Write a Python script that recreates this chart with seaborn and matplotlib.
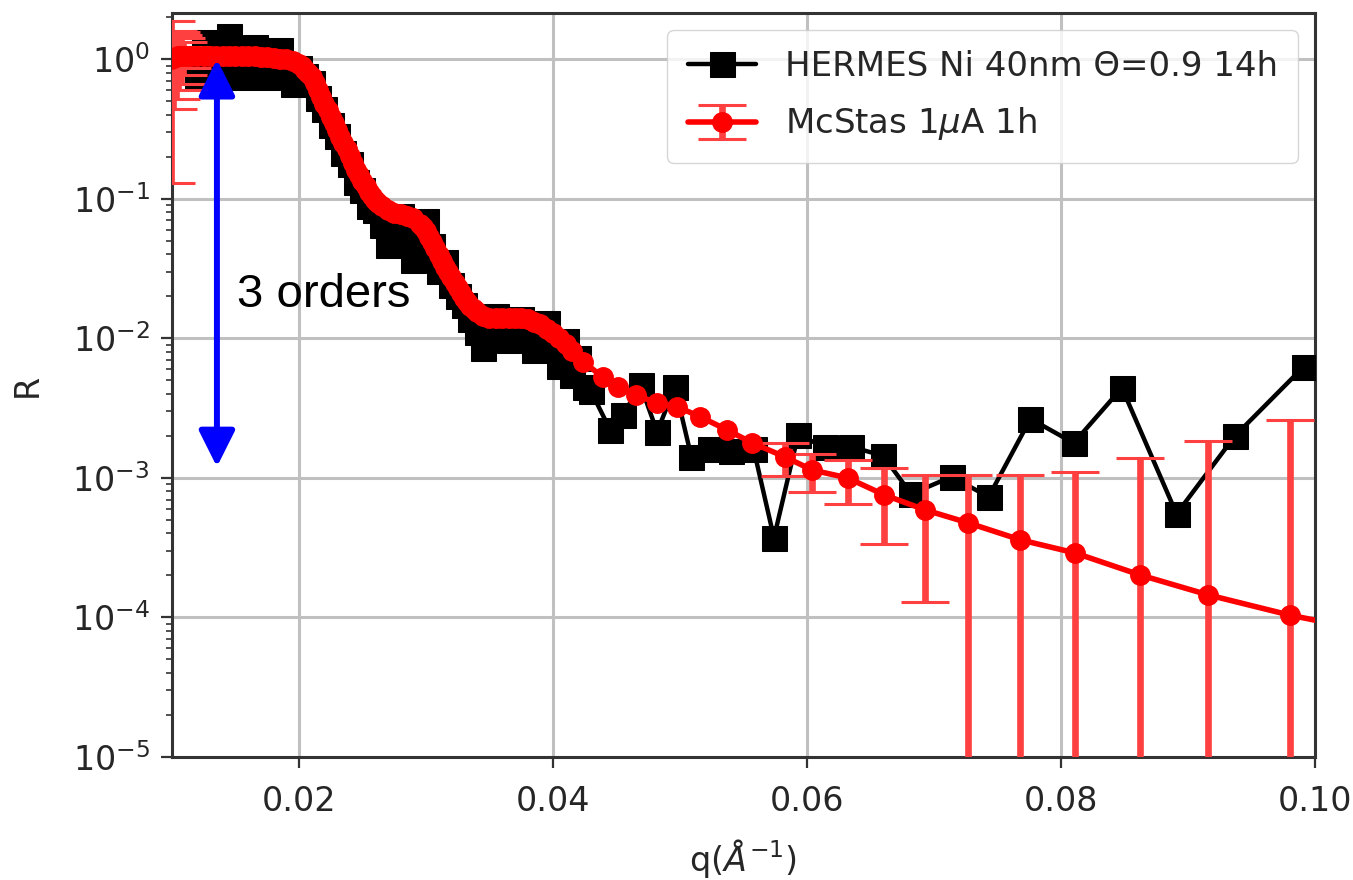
import matplotlib
matplotlib.use("Agg")
import matplotlib.pyplot as plt
import seaborn as sns
import pandas as pd

# ---------------- data ----------------
hermes_q = [0.0120, 0.0125, 0.0130, 0.0135, 0.0140, 0.0145, 0.0150, 0.0155, 0.0160, 0.0165,
            0.0170, 0.0175, 0.0180, 0.0185, 0.0190, 0.0195, 0.0200, 0.0205, 0.0210, 0.0215,
            0.0220, 0.0225, 0.0230, 0.0235, 0.0240, 0.0245, 0.0250, 0.0255, 0.0260, 0.0265,
            0.0270, 0.0275, 0.0280, 0.0285, 0.0290, 0.0295, 0.0300, 0.0305, 0.0310, 0.0315,
            0.0320, 0.0325, 0.0330, 0.0335, 0.0340, 0.0345, 0.0350, 0.0355, 0.0360, 0.0365,
            0.0370, 0.0375, 0.0380, 0.0385, 0.0390, 0.0395, 0.0400, 0.0405, 0.0410, 0.0415,
            0.0420, 0.0425, 0.0430,
            0.0445, 0.0455, 0.0469, 0.0482, 0.0496, 0.0509, 0.0524, 0.0540, 0.0558, 0.0574,
            0.0593, 0.0614, 0.0635, 0.0660, 0.0682, 0.0714, 0.0743, 0.0776, 0.0810, 0.0848,
            0.0891, 0.0937, 0.0991]
hermes_R = [0.750, 1.33, 1.00, 0.750, 1.05, 1.47, 1.02, 0.750, 0.977, 1.23,
            0.955, 0.741, 0.933, 1.16, 0.912, 0.667, 0.871, 0.759, 0.676, 0.525,
            0.437, 0.339, 0.282, 0.214, 0.178, 0.132, 0.115, 0.0891, 0.0832, 0.0646,
            0.0468, 0.0575, 0.0759, 0.0525, 0.0363, 0.0501, 0.0692, 0.0457, 0.0302, 0.0355,
            0.0240, 0.0200, 0.0174, 0.0138, 0.0112, 0.00851, 0.0107, 0.0145, 0.0110, 0.00977,
            0.0110, 0.0138, 0.0105, 0.00832, 0.0102, 0.0129, 0.00933, 0.00631, 0.00955, 0.00550,
            0.00724, 0.00447, 0.00417,
            0.00221, 0.00283, 0.00460, 0.00214, 0.00449, 0.00141, 0.00161, 0.00156, 0.00161, 0.000372,
            0.00203, 0.00167, 0.00167, 0.00144, 0.000767, 0.00102, 0.000731, 0.00265, 0.00178, 0.00442,
            0.000552, 0.00200, 0.00625]

mcstas_q = [0.0099, 0.0101, 0.0103, 0.0105, 0.0107, 0.0109, 0.0112, 0.0115,
            0.0120, 0.0125, 0.0130, 0.0135, 0.0140, 0.0145, 0.0150, 0.0155, 0.0160, 0.0165,
            0.0170, 0.0175, 0.0180, 0.0185, 0.0190, 0.0195,
            0.02000, 0.02025, 0.02050, 0.02075, 0.02100, 0.02125, 0.02150, 0.02175, 0.02200,
            0.02225, 0.02250, 0.02275, 0.02300, 0.02325, 0.02350, 0.02375, 0.02400, 0.02425,
            0.02450, 0.02475, 0.02500, 0.02525, 0.02550, 0.02575, 0.02600, 0.02625, 0.02650,
            0.0270, 0.0275, 0.0280, 0.0285, 0.0290,
            0.02950, 0.02975, 0.03000, 0.03025, 0.03050, 0.03075, 0.03100, 0.03125, 0.03150,
            0.03175, 0.03200, 0.03225, 0.03250, 0.03275, 0.03300, 0.03325, 0.03350, 0.03375,
            0.03400,
            0.0345, 0.0350, 0.0355, 0.0360, 0.0365, 0.0370, 0.0375, 0.0380,
            0.0385, 0.0390, 0.0395, 0.0400, 0.0405, 0.0410, 0.0415,
            0.0424, 0.0439, 0.0451, 0.0465, 0.0482, 0.0498, 0.0516, 0.0537, 0.0557,
            0.0583, 0.0604, 0.0632, 0.0661, 0.0693, 0.0727, 0.0768, 0.0811, 0.0862, 0.0916,
            0.0980, 0.1045]
mcstas_R = [1.00, 1.02, 1.04, 1.05, 1.05, 1.05, 1.05, 1.05,
            1.05, 1.05, 1.05, 1.05, 1.05, 1.05, 1.05, 1.05, 1.05, 1.05,
            1.047, 1.035, 1.023, 1.012, 1.00, 0.977,
            0.933, 0.891, 0.841, 0.794, 0.741, 0.676, 0.603, 0.537, 0.479,
            0.432, 0.389, 0.347, 0.309, 0.279, 0.251, 0.226, 0.204, 0.182,
            0.162, 0.148, 0.135, 0.123, 0.112, 0.105, 0.0977, 0.0933, 0.0891,
            0.0832, 0.0794, 0.0776, 0.0759, 0.0729,
            0.0661, 0.0631, 0.0589, 0.0537, 0.0490, 0.0442, 0.0398, 0.0359, 0.0324,
            0.0299, 0.0275, 0.0251, 0.0229, 0.0211, 0.0195, 0.0182, 0.0170, 0.0162,
            0.0155,
            0.0145, 0.0141, 0.0140, 0.0140, 0.0141, 0.0141, 0.0140, 0.0138,
            0.0132, 0.0126, 0.0117, 0.0110, 0.0100, 0.00912, 0.00813,
            0.00679, 0.00530, 0.00449, 0.00393, 0.00345, 0.00323, 0.00274, 0.00221, 0.00178,
            0.00141, 0.00114, 0.00100, 0.000755, 0.000590, 0.000476, 0.000360, 0.000290, 0.000202, 0.000145,
            0.000104, 0.000079]

# visible error bars (symmetric), by q; all other points show none
err_q = [0.0099, 0.0101, 0.0103, 0.0105, 0.0107, 0.0109, 0.0112, 0.0115,
         0.0583, 0.0604, 0.0632, 0.0661, 0.0693, 0.0727, 0.0768, 0.0811, 0.0862, 0.0916,
         0.0980, 0.1045]
err_val = [0.87, 0.58, 0.52, 0.45, 0.38, 0.28, 0.18, 0.10,
           0.00037, 0.00035, 0.00035, 0.00042, 0.00046, 0.00057, 0.00069, 0.00081, 0.00119, 0.00170,
           0.00251, 0.0030]

x_ticks = [0.02, 0.04, 0.06, 0.08, 0.10]
x_ticklabels = ["0.02", "0.04", "0.06", "0.08", "0.10"]

label_hermes = "HERMES Ni 40nm \u0398=0.9 14h"
label_mcstas = r"McStas 1$\mu$A 1h"

# ---------------- style ----------------
sns.set_style("whitegrid")
plt.rcParams["font.family"] = ["DejaVu Sans"]
plt.rcParams["mathtext.fontset"] = "dejavusans"

fig = plt.figure(figsize=(13.53, 8.8), dpi=100)
ax = fig.add_axes([0.1271, 0.1398, 0.8448, 0.8455])

df_h = pd.DataFrame({"q": hermes_q, "R": hermes_R})
sns.lineplot(data=df_h, x="q", y="R", ax=ax, color="black", marker="s",
             markersize=18, markeredgecolor="black", linewidth=3.2,
             sort=False, estimator=None, label=label_hermes, zorder=3)

err_map = dict(zip(err_q, err_val))
mcstas_err = [err_map.get(q, 0.0) for q in mcstas_q]
show_err = [q in err_map for q in mcstas_q]
line, caps, bars = ax.errorbar(mcstas_q, mcstas_R, yerr=mcstas_err, fmt="-o",
                               color="red", ms=14, lw=4.0,
                               ecolor=(1.0, 0.25, 0.25), elinewidth=4.8,
                               capsize=17, capthick=2.2, errorevery=show_err,
                               label=label_mcstas, zorder=4)
for c in caps:
    c.set_color("red")

ax.set_yscale("log")
ax.set_xlim(0.01, 0.10)
ax.set_ylim(1e-5, 2.15)
ax.set_xticks(x_ticks)
ax.set_xticklabels(x_ticklabels)

ax.grid(True, which="major", color="#c0c0c0", linewidth=2.2)
ax.grid(False, which="minor")
ax.set_axisbelow(True)
for s in ax.spines.values():
    s.set_color("#333333")
    s.set_linewidth(2.2)

ax.tick_params(axis="both", which="major", bottom=True, left=True, direction="out",
               length=8, width=1.6, color="#333333", labelsize=24, labelcolor="#262626")
ax.tick_params(axis="x", which="major", pad=12)
ax.tick_params(axis="y", which="major", pad=8)
ax.tick_params(axis="y", which="minor", left=True, direction="out", length=4,
               width=1.2, color="#333333")

ax.set_xlabel(r"q($\AA^{-1}$)", fontsize=24, color="#262626", labelpad=14)
ax.set_ylabel("R", fontsize=24, color="#262626", labelpad=20)

# annotation: arrow + text
ax.annotate("", xy=(0.01354, 1.2e-3), xytext=(0.01354, 1.0),
            arrowprops=dict(arrowstyle="<|-|>,head_length=0.4,head_width=0.2",
                            color="blue", lw=4.3, mutation_scale=55,
                            shrinkA=0, shrinkB=0), zorder=6)
ax.text(0.0151, 0.0168, "3 orders", fontsize=34, family="Liberation Sans",
        va="baseline", ha="left", color="black", zorder=6)

ax.legend(loc="upper right", fontsize=24.5, framealpha=0.8, edgecolor="0.8",
          fancybox=True, handlelength=2.0, labelspacing=0.65, borderpad=0.6,
          handletextpad=0.85)

fig.savefig("out.png", dpi=100)
